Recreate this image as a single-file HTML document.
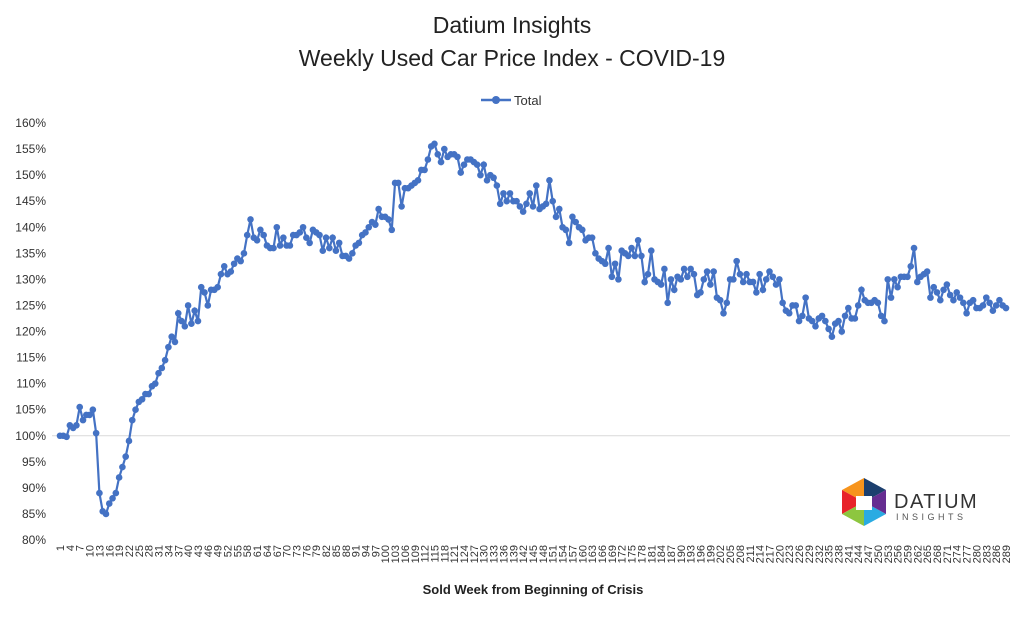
<!DOCTYPE html>
<html><head><meta charset="utf-8"><style>
body{margin:0;background:#fff;}
svg text{font-family:"Liberation Sans",sans-serif;}
</style></head><body>
<svg id="c" width="1024" height="617" xmlns="http://www.w3.org/2000/svg">
<text x="512" y="33" text-anchor="middle" font-size="23" fill="#222">Datium Insights</text>
<text x="512" y="66" text-anchor="middle" font-size="23" fill="#222">Weekly Used Car Price Index - COVID-19</text>
<g>
<line x1="481" y1="100" x2="511" y2="100" stroke="#4472C4" stroke-width="2.5"/>
<circle cx="496" cy="100" r="4" fill="#4472C4"/>
<text x="514" y="105" font-size="13" fill="#333">Total</text>
</g>
<g id="yaxis"></g>
<g id="xaxis"></g>
<g id="series"></g>
<text x="533" y="594" text-anchor="middle" font-size="13" font-weight="bold" fill="#222">Sold Week from Beginning of Crisis</text>
<g transform="translate(842,478)">
<polygon points="22,0 44,12 22,24" fill="#1c3f6e"/>
<polygon points="0,12 22,0 22,24" fill="#f7941d"/>
<polygon points="0,12 22,24 0,36" fill="#e8232a"/>
<polygon points="0,36 22,24 22,48" fill="#8dc63f"/>
<polygon points="22,24 44,36 22,48" fill="#29abe2"/>
<polygon points="22,24 44,12 44,36" fill="#662d91"/>
<polygon points="14,18 30,18 30,32 14,32" fill="#fff"/>
<text x="52" y="30" font-size="20" fill="#333" letter-spacing="1.5">DATIUM</text>
<text x="54" y="42" font-size="9" fill="#555" letter-spacing="3.5">INSIGHTS</text>
</g>
</svg>
<script>
const yTicks=[80,85,90,95,100,105,110,115,120,125,130,135,140,145,150,155,160];
const values=[100,100,99.8,102,101.5,102,105.5,103,104,104,
105,100.5,89,85.5,85,87,88,89,92,94,
96,99,103,105,106.5,107,108,108,109.5,110,112,
113,114.5,117,119,118,123.5,122,121,125,121.5,
124,122,128.5,127.5,125,128,128,128.5,131,132.5,131,
131.5,133,134,133.5,135,138.5,141.5,138,137.5,139.5,
138.5,136.5,136,136,140,136.5,138,136.5,136.5,138.5,
138.5,139,140,138,137,139.5,139,138.5,135.5,138,
136,138,135.5,137,134.5,134.5,134,135,136.5,137,138.5,
139,140,141,140.5,143.5,142,142,141.5,139.5,148.5,148.5,
144,147.5,147.5,148,148.5,149,151,151,153,155.5,
156,154,152.5,155,153.5,154,154,153.5,150.5,152,
153,153,152.5,152,150,152,149,150,149.5,148,
144.5,146.5,145,146.5,145,145,144,143,144.5,146.5,
144,148,143.5,144,144.5,149,145,142,143.5,140,
139.5,137,142,141,140,139.5,137.5,138,138,
135,134,133.5,133,136,130.5,133,130,135.5,
135,134.5,136,134.5,137.5,134.5,129.5,131,135.5,130,
129.5,129,132,125.5,130,128,130.5,130,132,130.5,
132,131,127,127.5,130,131.5,129,131.5,126.5,
126,123.5,125.5,130,130,133.5,131,129.5,131,
129.5,129.5,127.5,131,128,130,131.5,130.5,129,130,
125.5,124,123.5,125,125,122,123,126.5,122.5,122,
121,122.5,123,122,120.5,119,121.5,122,120,123,
124.5,122.5,122.5,125,128,126,125.5,125.5,126,125.5,
123,122,130,126.5,130,128.5,130.5,130.5,130.5,132.5,
136,129.5,130.5,131,131.5,126.5,128.5,127.5,126,128,
129,127,126,127.5,126.5,125.5,123.5,125.5,126,124.5,
124.5,125,126.5,125.5,124,125,126,125,124.5];
const weeks=values.map((v,i)=>i+1);
const NS="http://www.w3.org/2000/svg";
const x0=60,x1=1006,yTop=123,yBot=540;
const xs=i=>x0+(i)*(x1-x0)/(values.length-1);
const ys=v=>yBot-(v-80)*(yBot-yTop)/80;
function mk(t,a,p){const e=document.createElementNS(NS,t);for(const k in a)e.setAttribute(k,a[k]);p.appendChild(e);return e;}
const ya=document.getElementById('yaxis');
yTicks.forEach(t=>{
 const tx=mk('text',{x:46,y:ys(t)+4,'text-anchor':'end','font-size':12,fill:'#333'},ya);
 
 
 tx.textContent=t+'%';
});
const gl=mk('line',{x1:52,x2:1010,y1:ys(100),y2:ys(100),stroke:'#d9d9d9','stroke-width':1},ya);


const xa=document.getElementById('xaxis');
weeks.forEach((w,i)=>{
 if(i%3!==0)return;
 const x=xs(i)+4;
 const tx=mk('text',{x:x,y:545,'text-anchor':'end','font-size':11,fill:'#333',transform:`rotate(-90 ${x} 545)`},xa);
 
 
 tx.textContent=w;
});
const s=document.getElementById('series');
const pl=mk('polyline',{points:values.map((v,i)=>xs(i)+','+ys(v)).join(' '),fill:'none',stroke:'#4472C4','stroke-width':2.2},s);


values.forEach((v,i)=>{
 const c=mk('circle',{cx:xs(i),cy:ys(v),r:3.3,fill:'#4472C4'},s);
 
 
});
</script>
</body></html>
